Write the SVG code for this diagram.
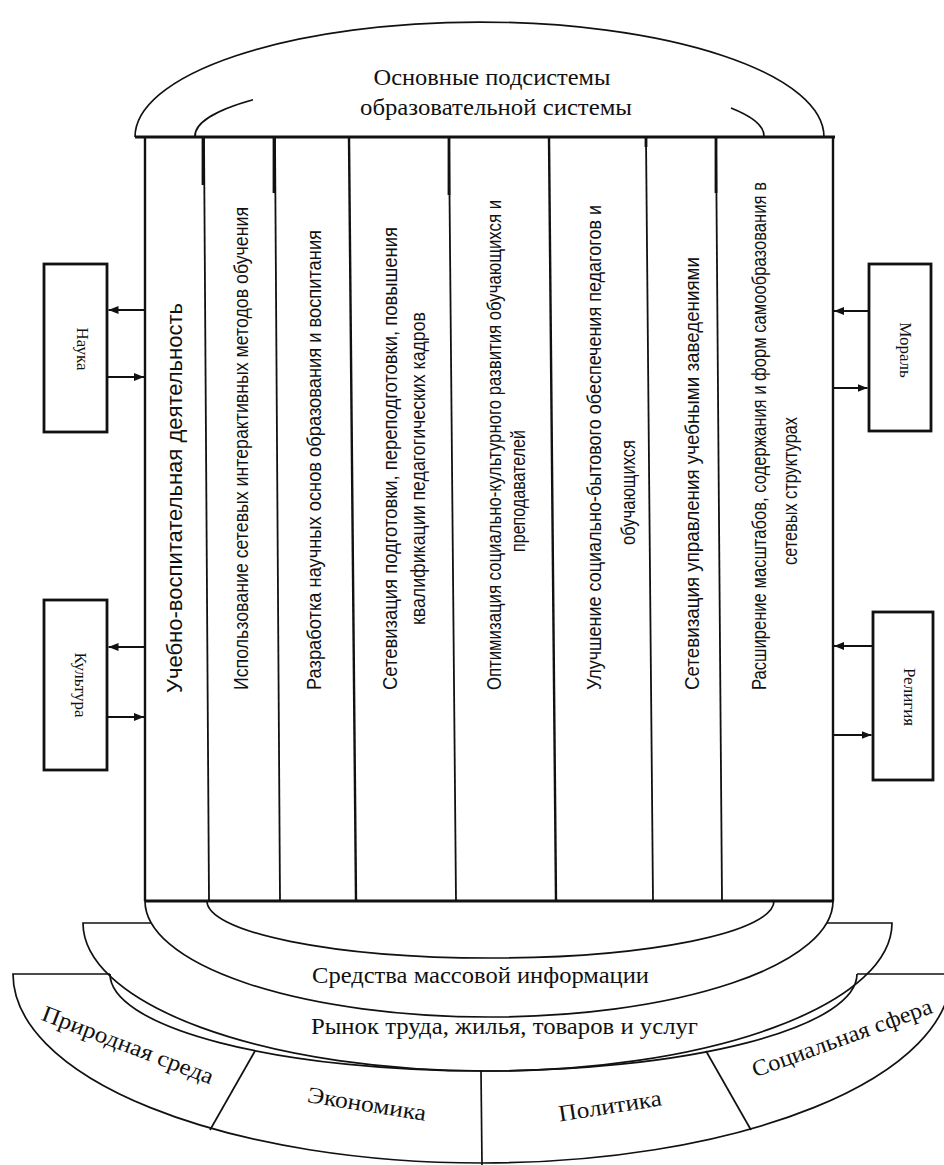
<svg xmlns="http://www.w3.org/2000/svg" width="944" height="1165" viewBox="0 0 944 1165">
<style>
.ln{stroke:#111;fill:none;stroke-width:1.8}
.lnb{stroke:#111;fill:none;stroke-width:2.4}
.thk{stroke:#111;fill:none;stroke-width:2.8}
.arc{stroke:#111;fill:none;stroke-width:1.7}
.box{stroke:#111;fill:#fff;stroke-width:2.8}
.serif{font-family:"Liberation Serif","Times New Roman",serif;fill:#111}
.sans{font-family:"Liberation Sans",Arial,sans-serif;fill:#111}
.col{font-size:21px}
.big{font-size:24px}
.sm{font-size:17px}
.con{stroke:#111;stroke-width:2.2;fill:none}
</style>
<defs>
<marker id="ah" viewBox="0 0 10 8" refX="10" refY="4" markerWidth="10" markerHeight="8" markerUnits="userSpaceOnUse" orient="auto">
<path d="M0,0 L10,4 L0,8 z" fill="#111"/>
</marker>
</defs>
<rect width="944" height="1165" fill="#fff"/>

<g id="env-outer">
<path class="arc" d="M110,974 L13,974 A469,189 0 0 0 951,974"/>
<path class="arc" d="M944,974 L857,974"/>
<path class="arc" d="M110,974 A373.5,97 0 0 0 857,974"/>
<line class="arc" x1="255" y1="1051" x2="210" y2="1130"/>
<line class="arc" x1="481" y1="1071" x2="482" y2="1165"/>
<line class="arc" x1="706" y1="1051" x2="751" y2="1130"/>
<text class="serif" font-size="23" text-anchor="middle" dominant-baseline="central" transform="translate(128,1045) rotate(21)" textLength="182" lengthAdjust="spacingAndGlyphs">Природная среда</text>
<text class="serif" font-size="23" text-anchor="middle" dominant-baseline="central" transform="translate(367,1104) rotate(9)" textLength="120" lengthAdjust="spacingAndGlyphs">Экономика</text>
<text class="serif" font-size="23" text-anchor="middle" dominant-baseline="central" transform="translate(610,1106) rotate(-9)" textLength="104" lengthAdjust="spacingAndGlyphs">Политика</text>
<text class="serif" font-size="23" text-anchor="middle" dominant-baseline="central" transform="translate(842,1038) rotate(-20)" textLength="190" lengthAdjust="spacingAndGlyphs">Социальная сфера</text>
</g>

<g id="market">
<path class="arc" d="M151,923 L83,923 A404.5,148 0 0 0 892,923 L827,923"/>
<text class="serif big" x="311" y="1034" textLength="387" lengthAdjust="spacingAndGlyphs">Рынок труда, жилья, товаров и услуг</text>
</g>

<g id="media">
<path class="arc" d="M145,901 A344,116 0 0 0 833,901"/>
<path class="arc" d="M207,901 A283.5,57 0 0 0 774,901"/>
<text class="serif big" x="312" y="983" textLength="337" lengthAdjust="spacingAndGlyphs">Средства массовой информации</text>
</g>

<g id="dome">
<path class="arc" d="M135,137 A344.5,115 0 0 1 824,137"/>
<path class="arc" d="M195,137 A284.5,60 0 0 1 253,99.7"/>
<path class="arc" d="M731,108 A284.5,60 0 0 1 764,137"/>
<text class="serif big" x="492" y="85" text-anchor="middle" textLength="237" lengthAdjust="spacingAndGlyphs">Основные подсистемы</text>
<text class="serif big" x="496" y="115" text-anchor="middle" textLength="272" lengthAdjust="spacingAndGlyphs">образовательной системы</text>
</g>

<g id="subsystems">
<line class="thk" x1="135" y1="137" x2="835" y2="137"/>
<line class="thk" x1="145" y1="901" x2="834" y2="901"/>
<line class="lnb" x1="145" y1="137" x2="145" y2="901"/>
<line class="lnb" x1="833" y1="137" x2="833" y2="901"/>
<line class="ln" x1="204" y1="137" x2="209" y2="901"/>
<line class="ln" x1="275" y1="137" x2="280" y2="901"/>
<line class="lnb" x1="349" y1="137" x2="356" y2="901"/>
<line class="ln" x1="449" y1="137" x2="456" y2="901"/>
<line class="lnb" x1="549" y1="137" x2="556" y2="901"/>
<line class="ln" x1="646" y1="137" x2="653" y2="901"/>
<line class="ln" x1="716" y1="137" x2="722" y2="901"/>
<line class="thk" x1="203" y1="137" x2="203" y2="185"/>
<line class="thk" x1="274" y1="137" x2="274" y2="193"/>
<line class="thk" x1="449" y1="137" x2="449" y2="195"/>
<line class="thk" x1="646" y1="137" x2="646" y2="147"/>
<line class="thk" x1="716" y1="137" x2="716" y2="193"/>
</g>

<g id="col1"><text class="sans" font-size="22" transform="translate(182,693) rotate(-90)" textLength="390" lengthAdjust="spacingAndGlyphs">Учебно-воспитательная деятельность</text></g>
<g id="col2"><text class="sans col" transform="translate(248,690) rotate(-90)" textLength="483" lengthAdjust="spacingAndGlyphs">Использование сетевых интерактивных методов обучения</text></g>
<g id="col3"><text class="sans col" transform="translate(321,690) rotate(-90)" textLength="460" lengthAdjust="spacingAndGlyphs">Разработка научных основ образования и воспитания</text></g>
<g id="col4">
<text class="sans col" transform="translate(397,690) rotate(-90)" textLength="463" lengthAdjust="spacingAndGlyphs">Сетевизация подготовки, переподготовки, повышения</text>
<text class="sans col" transform="translate(425,625) rotate(-90)" textLength="313" lengthAdjust="spacingAndGlyphs">квалификации педагогических кадров</text>
</g>
<g id="col5">
<text class="sans col" transform="translate(501,690) rotate(-90)" textLength="490" lengthAdjust="spacingAndGlyphs">Оптимизация социально-культурного развития обучающихся и</text>
<text class="sans col" transform="translate(525,552) rotate(-90)" textLength="122" lengthAdjust="spacingAndGlyphs">преподавателей</text>
</g>
<g id="col6">
<text class="sans col" transform="translate(601,690) rotate(-90)" textLength="485" lengthAdjust="spacingAndGlyphs">Улучшение социально-бытового обеспечения педагогов и</text>
<text class="sans col" transform="translate(635,545) rotate(-90)" textLength="105" lengthAdjust="spacingAndGlyphs">обучающихся</text>
</g>
<g id="col7"><text class="sans col" transform="translate(699,690) rotate(-90)" textLength="433" lengthAdjust="spacingAndGlyphs">Сетевизация управления учебными заведениями</text></g>
<g id="col8">
<text class="sans col" transform="translate(766,690) rotate(-90)" textLength="508" lengthAdjust="spacingAndGlyphs">Расширение масштабов, содержания и форм самообразования в</text>
<text class="sans col" transform="translate(797,565) rotate(-90)" textLength="148" lengthAdjust="spacingAndGlyphs">сетевых структурах</text>
</g>

<g id="nauka">
<rect class="box" x="44" y="264" width="63" height="168"/>
<text class="serif sm" text-anchor="middle" dominant-baseline="central" transform="translate(82,349) rotate(90)">Наука</text>
</g>
<g id="kultura">
<rect class="box" x="44" y="600" width="63" height="170"/>
<text class="serif sm" text-anchor="middle" dominant-baseline="central" transform="translate(80,685) rotate(90)">Культура</text>
</g>
<g id="moral">
<rect class="box" x="869" y="264" width="62" height="167"/>
<text class="serif sm" text-anchor="middle" dominant-baseline="central" transform="translate(905,350) rotate(90)">Мораль</text>
</g>
<g id="religiya">
<rect class="box" x="873" y="612" width="60" height="168"/>
<text class="serif sm" text-anchor="middle" dominant-baseline="central" transform="translate(909,697) rotate(90)">Религия</text>
</g>

<g id="connectors">
<line class="con" x1="145" y1="310" x2="108.5" y2="310" marker-end="url(#ah)"/>
<line class="con" x1="107" y1="377" x2="144" y2="377" marker-end="url(#ah)"/>
<line class="con" x1="145" y1="647" x2="108.5" y2="647" marker-end="url(#ah)"/>
<line class="con" x1="107" y1="717" x2="144" y2="717" marker-end="url(#ah)"/>
<line class="con" x1="869" y1="311" x2="834" y2="311" marker-end="url(#ah)"/>
<line class="con" x1="833" y1="388" x2="867.5" y2="388" marker-end="url(#ah)"/>
<line class="con" x1="873" y1="646" x2="834" y2="646" marker-end="url(#ah)"/>
<line class="con" x1="833" y1="735" x2="871.5" y2="735" marker-end="url(#ah)"/>
</g>
</svg>
